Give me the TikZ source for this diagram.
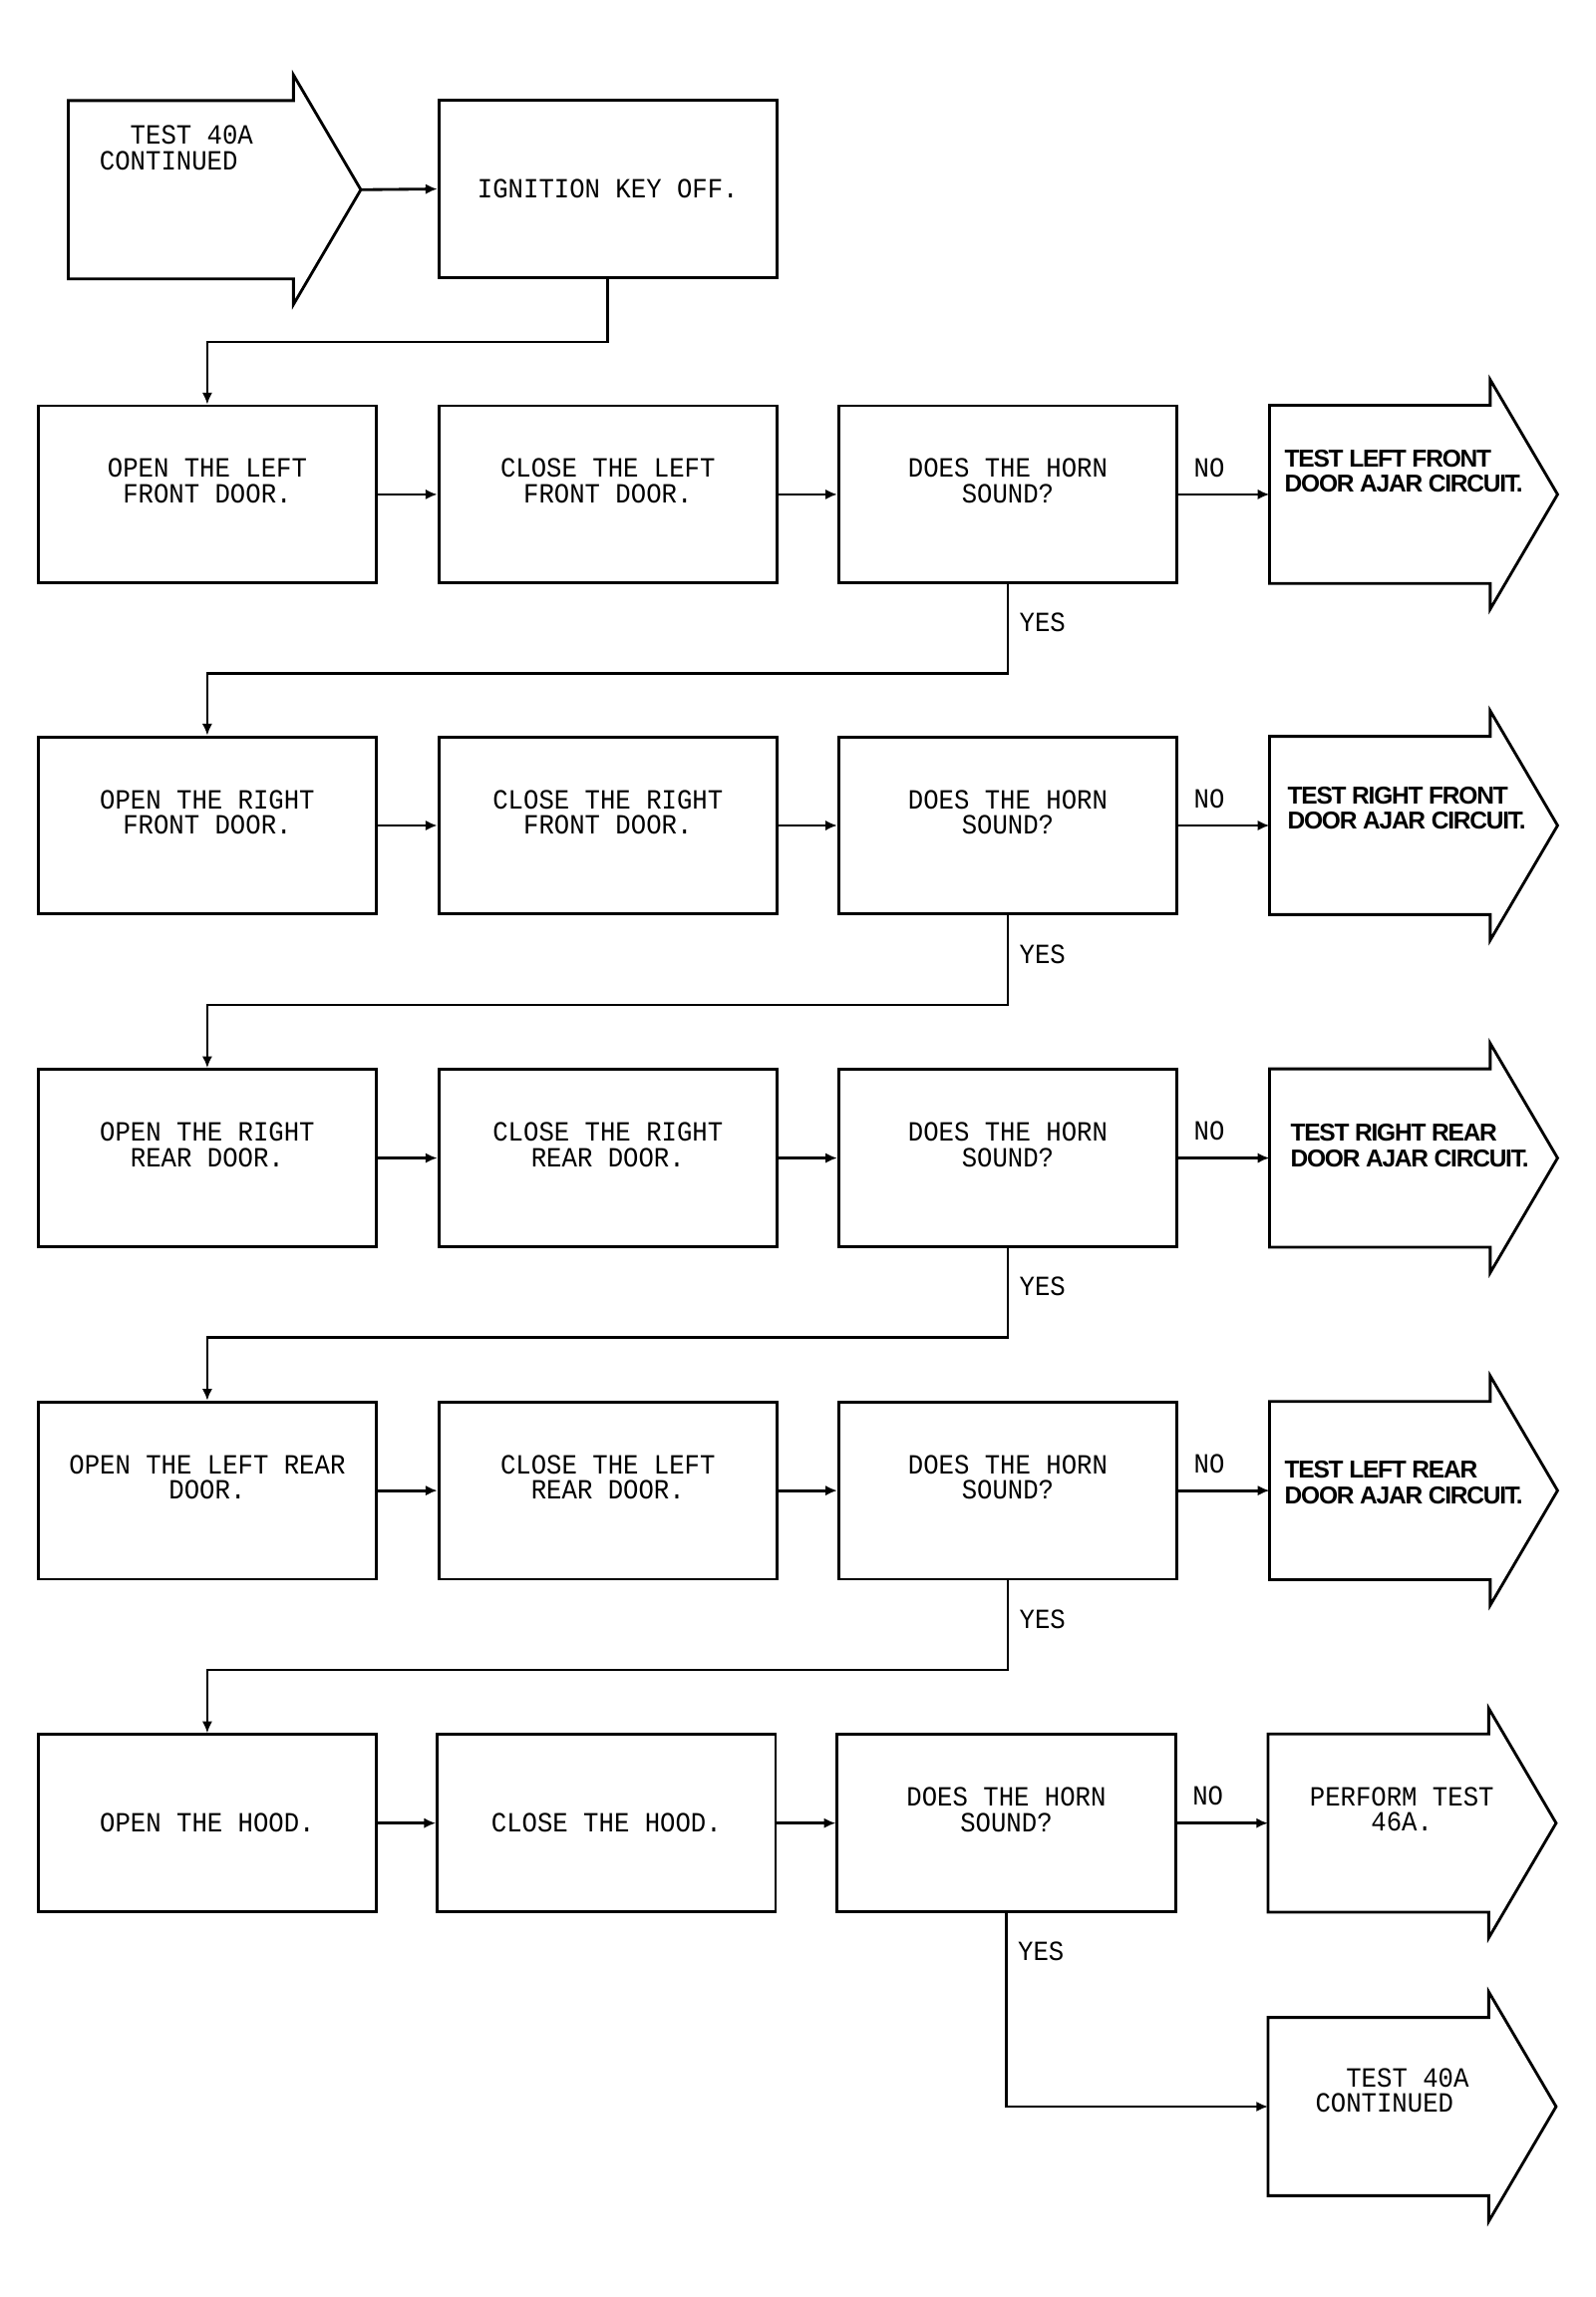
\documentclass[tikz,border=0pt]{standalone}
\usepackage{fontspec}
\usetikzlibrary{arrows.meta}
\newfontfamily\plotfont[FakeStretch=0.92]{Liberation Mono}
\newfontfamily\signfont[LetterSpace=-5]{Liberation Sans}
\begin{document}
\begin{tikzpicture}[x=0.02cm, y=-0.02cm,
    box/.style = {draw, rectangle, line width=1.1pt, minimum width=4.62cm, minimum height=2.42cm, inner sep=0pt},
    body/.style = {rectangle, minimum width=3cm, minimum height=2.42cm, inner sep=0pt},
    txt/.style = {font={\plotfont\fontsize{10.8pt}{10pt}\selectfont}, align=center, inner sep=0pt},
    sign/.style = {font={\signfont\bfseries\fontsize{9.5pt}{9.7pt}\selectfont}, align=left, anchor=west, inner sep=0pt},
    lbl/.style = {font={\plotfont\fontsize{10.8pt}{10pt}\selectfont}, inner sep=0pt},
    edge/.style = {line width=1.1pt},
    flow/.style = {line width=1.1pt, -{Latex[length=1.6mm,width=1.4mm]}}]
  \useasboundingbox (0,0) rectangle (1089,1568);

  % top
  \node[body, minimum width=3.06cm] (start) at (123.5,129.5) {};
  \node[box, txt] (ign) at (415,129) {IGNITION KEY OFF.};
  \coordinate (starttip) at ([xshift=9.2mm]start.east);

  % rows
  \node[box] (o1) at (141.5,337.5) {};
  \node[box] (c1) at (415,337.5) {};
  \node[box] (d1) at (688,337.5) {};
  \node[body] (a1) at (942,337.5) {};

  \node[box] (o2) at (141.5,563.5) {};
  \node[box] (c2) at (415,563.5) {};
  \node[box] (d2) at (688,563.5) {};
  \node[body] (a2) at (942,563.5) {};

  \node[box] (o3) at (141.5,790.5) {};
  \node[box] (c3) at (415,790.5) {};
  \node[box] (d3) at (688,790.5) {};
  \node[body] (a3) at (942,790.5) {};

  \node[box] (o4) at (141.5,1017.5) {};
  \node[box] (c4) at (415,1017.5) {};
  \node[box] (d4) at (688,1017.5) {};
  \node[body] (a4) at (942,1017.5) {};

  \node[box, txt] (o5) at (141.5,1244.5) {OPEN THE HOOD.};
  \node[box, txt] (c5) at (414,1244.5) {CLOSE THE HOOD.};
  \node[box] (d5) at (687,1244.5) {};
  \node[body] (a5) at (941,1244.5) {};

  \node[body] (fin) at (941,1438) {};

  % arrow outlines
  \foreach \n in {start,a1,a2,a3,a4,a5,fin}
    \draw[edge] (\n.south west) -- (\n.north west) -- (\n.north east)
      -- ([yshift=3.5mm]\n.north east) -- ([xshift=9.2mm]\n.east)
      -- ([yshift=-3.5mm]\n.south east) -- (\n.south east) -- cycle;

  % texts
  \node[txt, align=left, anchor=west] (startt) at ([xshift=4.2mm,yshift=5.7mm]start.west) {~~TEST 40A\\CONTINUED};

  \node[txt] (o1t) at ([yshift=1.8mm]o1.center) {OPEN THE LEFT\\FRONT DOOR.};
  \node[txt] (c1t) at ([yshift=1.8mm]c1.center) {CLOSE THE LEFT\\FRONT DOOR.};
  \node[txt] (d1t) at ([yshift=1.8mm]d1.center) {DOES THE HORN\\SOUND?};
  \node[sign] (a1t) at ([xshift=2mm,yshift=3.2mm]a1.west) {TEST LEFT FRONT\\DOOR AJAR CIRCUIT.};

  \node[txt] (o2t) at ([yshift=1.8mm]o2.center) {OPEN THE RIGHT\\FRONT DOOR.};
  \node[txt] (c2t) at ([yshift=1.8mm]c2.center) {CLOSE THE RIGHT\\FRONT DOOR.};
  \node[txt] (d2t) at ([yshift=1.8mm]d2.center) {DOES THE HORN\\SOUND?};
  \node[sign] (a2t) at ([xshift=2.4mm,yshift=2.4mm]a2.west) {TEST RIGHT FRONT\\DOOR AJAR CIRCUIT.};

  \node[txt] (o3t) at ([yshift=1.8mm]o3.center) {OPEN THE RIGHT\\REAR DOOR.};
  \node[txt] (c3t) at ([yshift=1.8mm]c3.center) {CLOSE THE RIGHT\\REAR DOOR.};
  \node[txt] (d3t) at ([yshift=1.8mm]d3.center) {DOES THE HORN\\SOUND?};
  \node[sign] (a3t) at ([xshift=2.8mm,yshift=1.7mm]a3.west) {TEST RIGHT REAR\\DOOR AJAR CIRCUIT.};

  \node[txt] (o4t) at ([yshift=1.8mm]o4.center) {OPEN THE LEFT REAR\\DOOR.};
  \node[txt] (c4t) at ([yshift=1.8mm]c4.center) {CLOSE THE LEFT\\REAR DOOR.};
  \node[txt] (d4t) at ([yshift=1.8mm]d4.center) {DOES THE HORN\\SOUND?};
  \node[sign] (a4t) at ([xshift=2mm,yshift=1.1mm]a4.west) {TEST LEFT REAR\\DOOR AJAR CIRCUIT.};

  \node[txt] (d5t) at ([yshift=1.8mm]d5.center) {DOES THE HORN\\SOUND?};
  \node[txt] (a5t) at ([xshift=3.2mm,yshift=1.9mm]a5.center) {PERFORM TEST\\46A.};

  \node[txt, align=left, anchor=west] (fint) at ([xshift=6.4mm,yshift=2.2mm]fin.west) {~~TEST 40A\\CONTINUED};

  % connectors
  \draw[flow] (starttip) -- (ign.west);
  \draw[flow] (ign.south) -- ++(0,43) -| (o1.north);

  \draw[flow] (o1) -- (c1);
  \draw[flow] (c1) -- (d1);
  \draw[flow] (d1) -- node[lbl, pos=0.34, above=2.2mm] (no1) {NO} (a1);
  \draw[flow] (d1.south) -- node[lbl, pos=0.43, right=1.4mm] (yes1) {YES} ++(0,61) -| (o2.north);

  \draw[flow] (o2) -- (c2);
  \draw[flow] (c2) -- (d2);
  \draw[flow] (d2) -- node[lbl, pos=0.34, above=2.2mm] (no2) {NO} (a2);
  \draw[flow] (d2.south) -- node[lbl, pos=0.43, right=1.4mm] (yes2) {YES} ++(0,61) -| (o3.north);

  \draw[flow] (o3) -- (c3);
  \draw[flow] (c3) -- (d3);
  \draw[flow] (d3) -- node[lbl, pos=0.34, above=2.2mm] (no3) {NO} (a3);
  \draw[flow] (d3.south) -- node[lbl, pos=0.43, right=1.4mm] (yes3) {YES} ++(0,61) -| (o4.north);

  \draw[flow] (o4) -- (c4);
  \draw[flow] (c4) -- (d4);
  \draw[flow] (d4) -- node[lbl, pos=0.34, above=2.2mm] (no4) {NO} (a4);
  \draw[flow] (d4.south) -- node[lbl, pos=0.43, right=1.4mm] (yes4) {YES} ++(0,61) -| (o5.north);

  \draw[flow] (o5) -- (c5);
  \draw[flow] (c5) -- (d5);
  \draw[flow] (d5) -- node[lbl, pos=0.34, above=2.2mm] (no5) {NO} (a5);
  \draw[flow] (d5.south) |- node[lbl, pos=0.1, right=1.4mm] (yes5) {YES} (fin.west);
\end{tikzpicture}
\end{document}
